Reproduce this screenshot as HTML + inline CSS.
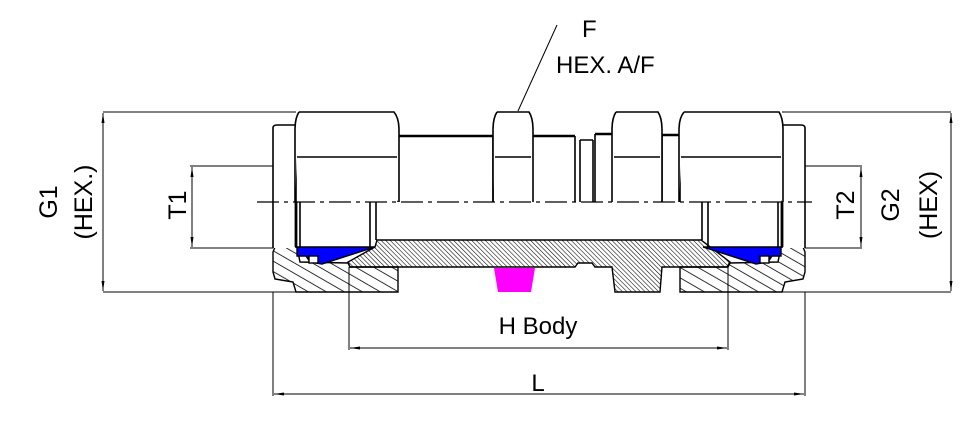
<!DOCTYPE html>
<html><head><meta charset="utf-8"><style>
html,body{margin:0;padding:0;background:#fff;}
svg{display:block;}
text{font-family:"Liberation Sans",Arial,sans-serif;fill:#000;}
</style></head><body>
<svg width="966" height="428" viewBox="0 0 966 428" xmlns="http://www.w3.org/2000/svg">
<defs>
<pattern id="hc" patternUnits="userSpaceOnUse" width="9" height="9" patternTransform="rotate(-60)">
<line x1="0" y1="0" x2="0" y2="9" stroke="#000" stroke-width="1.6"/></pattern>
<pattern id="hf" patternUnits="userSpaceOnUse" width="3.2" height="3.2" patternTransform="rotate(-45)">
<line x1="0" y1="0" x2="0" y2="3.2" stroke="#000" stroke-width="1.1"/></pattern>
<marker id="a" markerWidth="10" markerHeight="6" refX="10" refY="3" orient="auto-start-reverse" markerUnits="userSpaceOnUse">
<path d="M0,1.5 L10,3 L0,4.5 Z" fill="#000"/></marker>
</defs>
<g stroke="#000" fill="none" stroke-width="1">
<line x1="103" y1="112" x2="296" y2="112"/>
<line x1="103" y1="292" x2="296" y2="292"/>
<line x1="782" y1="112" x2="951" y2="112"/>
<line x1="782" y1="292" x2="951" y2="292"/>
<line x1="190" y1="166" x2="273" y2="166"/>
<line x1="190" y1="248" x2="273" y2="248"/>
<line x1="805" y1="166" x2="862" y2="166"/>
<line x1="805" y1="248" x2="862" y2="248"/>
<line x1="349" y1="267" x2="349" y2="350"/>
<line x1="728" y1="267" x2="728" y2="350"/>
<line x1="273" y1="292" x2="273" y2="396"/>
<line x1="805" y1="292" x2="805" y2="396"/>
<line x1="103" y1="113" x2="103" y2="291" marker-start="url(#a)" marker-end="url(#a)"/>
<line x1="192" y1="167" x2="192" y2="247" marker-start="url(#a)" marker-end="url(#a)"/>
<line x1="861" y1="167" x2="861" y2="247" marker-start="url(#a)" marker-end="url(#a)"/>
<line x1="951" y1="113" x2="951" y2="291" marker-start="url(#a)" marker-end="url(#a)"/>
<line x1="350" y1="348" x2="727" y2="348" marker-start="url(#a)" marker-end="url(#a)"/>
<line x1="274" y1="394" x2="804" y2="394" marker-start="url(#a)" marker-end="url(#a)"/>
<line x1="518" y1="111" x2="557" y2="25"/>
</g>
<g stroke="#000" stroke-width="1.4">
<polygon fill="url(#hf)" points="377,240 701,240 730,262 727,267 662,267 660,292 615,292 612,267 595,267 592,263 578,263 575,267 350,267 348,262 375,247"/>
<polygon fill="url(#hc)" points="275,247 297,247 300,262 348,263 350,267 398,267 398,292 296,292 293,282 275,279 273,272 273,252"/>
<polygon fill="url(#hc)" points="803,247 781,247 778,262 730,263 728,267 680,267 680,292 782,292 785,282 803,279 805,272 805,252"/>
<polygon fill="#0000ff" points="297,247 375,247 322,264 310,262 306,256 297,256"/>
<polygon fill="#0000ff" points="781,247 703,247 756,264 768,262 772,256 781,256"/>
<polygon fill="#ff00ff" stroke="none" points="494,268 535,268 531,292 498,292"/>
<rect x="309" y="256" width="9" height="7" fill="#fff"/>
<rect x="760" y="256" width="9" height="7" fill="#fff"/>
</g>
<g stroke="#000" fill="#fff" stroke-width="1.6">
<path d="M273,248 V128 Q273,125 277,125 H296 V248"/>
<path d="M805,248 V128 Q805,125 801,125 H782 V248"/>
<path d="M398,136 H493 M533,136 H575 M595,134 H612 M662,135 H680" stroke-width="2.6"/>
<path d="M575,136 V202 M580,140 V202 M593,140 V202 M580,140 H593 M595,134 V202 M662,135 V202 M680,135 V202 M398,136 V202 M493,136 V202"/>
<path d="M299,112 H394 Q399,118 399,130 V202 M299,112 Q295,118 295,130 V202 M297,157 H397"/>
<path d="M684,112 H779 Q783,118 783,130 V202 M684,112 Q679,118 679,130 V202 M681,157 H781"/>
<path d="M497,112 H529 Q533,118 533,130 V202 M497,112 Q493,118 493,130 V202 M495,157 H531"/>
<path d="M616,112 H658 Q662,118 662,130 V202 M616,112 Q612,118 612,130 V202 M614,157 H660"/>
<path d="M296,202 V247" stroke-width="2.8"/>
<path d="M300,202 V247 M370,202 V247 M376,202 V240"/>
<path d="M782,202 V247" stroke-width="2.8"/>
<path d="M778,202 V247 M708,202 V247 M702,202 V240"/>
</g>
<line x1="257" y1="202" x2="812" y2="202" stroke="#000" stroke-width="1.3" stroke-dasharray="22,5,4,5"/>
<text x="582" y="37" font-size="24">F</text>
<text x="556" y="73" font-size="24">HEX. A/F</text>
<text x="538" y="334" font-size="24" text-anchor="middle">H Body</text>
<text x="538" y="391" font-size="24" text-anchor="middle">L</text>
<text transform="translate(57,202) rotate(-90)" font-size="25" text-anchor="middle">G1</text>
<text transform="translate(92,202) rotate(-90)" font-size="25" text-anchor="middle">(HEX.)</text>
<text transform="translate(186,205) rotate(-90)" font-size="25" text-anchor="middle">T1</text>
<text transform="translate(854,205) rotate(-90)" font-size="25" text-anchor="middle">T2</text>
<text transform="translate(899,205) rotate(-90)" font-size="25" text-anchor="middle">G2</text>
<text transform="translate(937,205) rotate(-90)" font-size="25" text-anchor="middle">(HEX)</text>
</svg>
</body></html>
